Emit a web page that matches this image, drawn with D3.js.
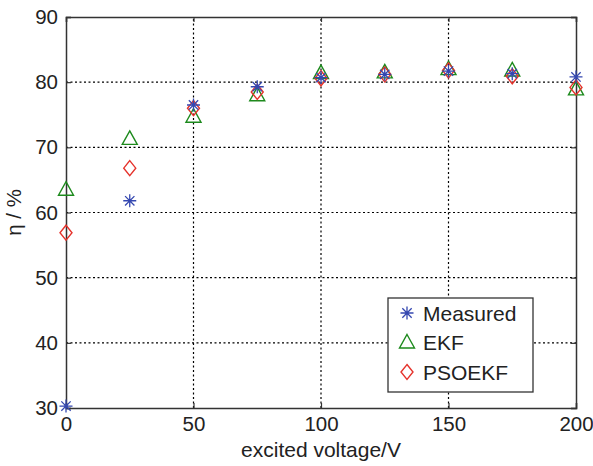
<!DOCTYPE html>
<html>
<head>
<meta charset="utf-8">
<script src="https://cdn.jsdelivr.net/npm/d3@7"></script>
<style>
  body { margin: 0; background: #fff; }
  text { font-family: "Liberation Sans", Arial, sans-serif; fill: #222; }
</style>
</head>
<body>
<div id="chart"></div>
<script>
// values
var voltage = [0, 25, 50, 75, 100, 125, 150, 175, 200];
var measured = [30.3, 61.8, 76.5, 79.3, 80.7, 81.2, 81.7, 81.3, 80.8];
var ekf = [63.5, 71.3, 74.7, 78.0, 81.4, 81.5, 82.0, 81.8, 78.9];
var psoekf = [56.9, 66.8, 76.0, 78.5, 80.6, 81.2, 81.8, 80.9, 79.2];
var xTicks = [0, 50, 100, 150, 200];
var yTicks = [30, 40, 50, 60, 70, 80, 90];
var seriesNames = ["Measured", "EKF", "PSOEKF"];

function drawChart() {
    var width = 593, height = 466;
    var margin = { left: 66, right: 17, top: 17, bottom: 58 };
    var axisColor = "#333";

    var svg = d3.select("#chart").append("svg")
        .attr("width", width)
        .attr("height", height);

    var x = d3.scaleLinear().domain([0, 200]).range([margin.left, width - margin.right]);
    var y = d3.scaleLinear().domain([30, 90]).range([height - margin.bottom, margin.top]);

    // grid
    svg.append("g").selectAll("line")
        .data(xTicks.slice(1, -1))
        .enter().append("line")
        .attr("x1", function (d) { return x(d); })
        .attr("x2", function (d) { return x(d); })
        .attr("y1", y(30)).attr("y2", y(90))
        .attr("stroke", "#000").attr("stroke-width", 1.2)
        .attr("stroke-dasharray", "2,2.5");
    svg.append("g").selectAll("line")
        .data(yTicks.slice(1, -1))
        .enter().append("line")
        .attr("y1", function (d) { return y(d); })
        .attr("y2", function (d) { return y(d); })
        .attr("x1", x(0)).attr("x2", x(200))
        .attr("stroke", "#000").attr("stroke-width", 1.2)
        .attr("stroke-dasharray", "2,2.5");

    // axes (ticks point inward)
    var bottom = svg.append("g")
        .attr("transform", "translate(0," + y(30) + ")")
        .call(d3.axisBottom(x).tickValues(xTicks).tickSize(-5).tickPadding(8).tickFormat(d3.format("d")));
    var left = svg.append("g")
        .attr("transform", "translate(" + x(0) + ",0)")
        .call(d3.axisLeft(y).tickValues(yTicks).tickSize(-5).tickPadding(8).tickFormat(d3.format("d")));
    var top = svg.append("g")
        .attr("transform", "translate(0," + y(90) + ")")
        .call(d3.axisTop(x).tickValues(xTicks).tickSize(-5).tickFormat(""));
    var right = svg.append("g")
        .attr("transform", "translate(" + x(200) + ",0)")
        .call(d3.axisRight(y).tickValues(yTicks).tickSize(-5).tickFormat(""));

    [bottom, left, top, right].forEach(function (g) {
        g.select(".domain").attr("stroke", axisColor).attr("stroke-width", 1.5);
        g.selectAll(".tick line").attr("stroke", axisColor).attr("stroke-width", 1.2);
        g.selectAll("text").attr("font-size", 20.5).style("font-family", "Liberation Sans, Arial, sans-serif").attr("fill", "#222");
    });

    // axis labels
    svg.append("text")
        .attr("x", (x(0) + x(200)) / 2)
        .attr("y", 457)
        .attr("text-anchor", "middle")
        .attr("font-size", 21)
        .text("excited voltage/V");
    svg.append("text")
        .attr("transform", "translate(21," + ((y(30) + y(90)) / 2) + ") rotate(-90)")
        .attr("text-anchor", "middle")
        .attr("font-size", 20.5)
        .text("η / %");

    // marker shapes
    function star(g, cx, cy, color) {
        var r = 6.5, d = r * 0.72;
        var p = "M" + (cx - r) + "," + cy + "L" + (cx + r) + "," + cy +
            "M" + cx + "," + (cy - r) + "L" + cx + "," + (cy + r) +
            "M" + (cx - d) + "," + (cy - d) + "L" + (cx + d) + "," + (cy + d) +
            "M" + (cx - d) + "," + (cy + d) + "L" + (cx + d) + "," + (cy - d);
        g.append("path").attr("d", p).attr("stroke", color).attr("stroke-width", 1.3).attr("fill", "none");
    }
    function triangle(g, cx, cy, color) {
        var p = "M" + cx + "," + (cy - 8) + "L" + (cx + 7.5) + "," + (cy + 5.5) + "L" + (cx - 7.5) + "," + (cy + 5.5) + "Z";
        g.append("path").attr("d", p).attr("stroke", color).attr("stroke-width", 1.4).attr("fill", "none");
    }
    function diamond(g, cx, cy, color) {
        var p = "M" + cx + "," + (cy - 7.5) + "L" + (cx + 6) + "," + cy + "L" + cx + "," + (cy + 7.5) + "L" + (cx - 6) + "," + cy + "Z";
        g.append("path").attr("d", p).attr("stroke", color).attr("stroke-width", 1.4).attr("fill", "none");
    }

    var colors = { Measured: "#3447b0", EKF: "#1d8a1d", PSOEKF: "#e5322b" };
    var marks = svg.append("g");
    voltage.forEach(function (v, i) {
        triangle(marks, x(v), y(ekf[i]), colors.EKF);
    });
    voltage.forEach(function (v, i) {
        diamond(marks, x(v), y(psoekf[i]), colors.PSOEKF);
    });
    voltage.forEach(function (v, i) {
        star(marks, x(v), y(measured[i]), colors.Measured);
    });

    // legend
    var lg = svg.append("g");
    lg.append("rect")
        .attr("x", 388).attr("y", 298)
        .attr("width", 145).attr("height", 94)
        .attr("fill", "#fff").attr("stroke", axisColor).attr("stroke-width", 1.3);
    var shapes = [star, triangle, diamond];
    seriesNames.forEach(function (name, i) {
        var cy = 313 + i * 29.5;
        shapes[i](lg, 407, cy, colors[name]);
        lg.append("text")
            .attr("x", 423).attr("y", cy + 7.5)
            .attr("font-size", 21)
            .text(name);
    });
}

window.addEventListener('load', function () {
    drawChart();
});
</script>
</body>
</html>
